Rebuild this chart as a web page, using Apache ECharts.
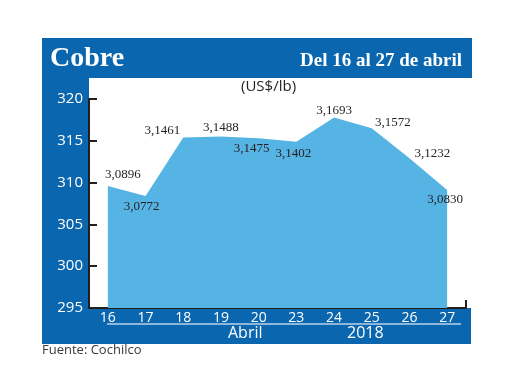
<!DOCTYPE html>
<html><head><meta charset="utf-8">
<script src="https://cdn.jsdelivr.net/npm/echarts@6/dist/echarts.min.js"></script>
<style>html,body{margin:0;padding:0;background:#fff}#c{width:520px;height:390px}</style>
</head><body><div id="c"></div>
<script>
// Data
var dias = ['16','17','18','19','20','23','24','25','26','27'];
var valores = [309.6, 308.4, 315.4, 315.5, 315.3, 314.9, 317.8, 316.5, 312.9, 309.1];
var etiquetas = ['3,0896','3,0772','3,1461','3,1488','3,1475','3,1402','3,1693','3,1572','3,1232','3,0830'];
var ticksY = [295, 300, 305, 310, 315, 320];

var offs = [[15,-11],[-4,11],[-21,-7],[0,-9],[-7,10],[-3,12],[0,-7],[21,-6],[23,-5],[-2,9]];
var azul = '#0a66ae';
var chart = echarts.init(document.getElementById('c'));
var serieData = valores.map(function (v, i) {
  return { value: v, label: { offset: offs[i], formatter: etiquetas[i] } };
});
chart.setOption({
  animation: false,
  backgroundColor: '#ffffff',
  graphic: [
    { type: 'rect', z: -10, shape: { x: 42, y: 38, width: 430, height: 40 }, style: { fill: azul } },
    { type: 'rect', z: -10, shape: { x: 42, y: 78, width: 47, height: 266 }, style: { fill: azul } },
    { type: 'rect', z: -10, shape: { x: 42, y: 308, width: 429, height: 36 }, style: { fill: azul } },
    { type: 'text', z: 5, left: 50, top: 45, style: { text: 'Cobre', fill: '#fff', font: 'bold 28px "Liberation Serif", serif' } },
    { type: 'text', z: 5, right: 58, top: 52, style: { text: 'Del 16 al 27 de abril', fill: '#fff', font: 'bold 19px "Liberation Serif", serif', textAlign: 'right' } },
    { type: 'text', z: 5, left: 241, top: 79, style: { text: '(US$/lb)', fill: '#231f20', font: '15px "Open Sans", sans-serif' } },
    { type: 'line', z: 5, shape: { x1: 107, y1: 324, x2: 461, y2: 324 }, style: { stroke: '#b9d3ec', lineWidth: 1.5 } },
    { type: 'text', z: 5, left: 228, top: 325, style: { text: 'Abril', fill: '#fff', font: '16px "Open Sans", sans-serif' } },
    { type: 'text', z: 5, left: 347, top: 325, style: { text: '2018', fill: '#fff', font: '16px "Open Sans", sans-serif' } },
    { type: 'text', z: 5, left: 42, top: 344, style: { text: 'Fuente: Cochilco', fill: '#3a3a3a', font: '13px "Open Sans", sans-serif' } }
  ],
  grid: { left: 89, right: 54, top: 99, bottom: 82 },
  xAxis: {
    type: 'category', data: dias, boundaryGap: true,
    axisLine: { lineStyle: { color: '#231f20', width: 2 } },
    axisTick: { show: true, inside: true, length: 8, lineStyle: { color: '#231f20', width: 2 },
      interval: function (i) { return i === dias.length - 1; } },
    axisLabel: { color: '#fff', fontSize: 14, fontFamily: 'Open Sans', margin: 3, interval: 0 }
  },
  yAxis: {
    type: 'value', min: ticksY[0], max: ticksY[ticksY.length - 1], interval: 5,
    splitLine: { show: false },
    axisLine: { show: true, lineStyle: { color: '#231f20', width: 2 } },
    axisTick: { show: true, inside: true, length: 8, lineStyle: { color: '#231f20', width: 2 } },
    axisLabel: { color: '#fff', fontSize: 15, fontFamily: 'Open Sans', margin: 6 }
  },
  series: [{
    type: 'line', data: serieData,
    symbol: 'circle', symbolSize: 0, showSymbol: true,
    lineStyle: { width: 0 },
    areaStyle: { color: '#56b4e4', opacity: 1, origin: 'start' },
    label: { show: true, position: 'inside', color: '#231f20', fontSize: 13, fontFamily: 'Liberation Serif' }
  }]
});
</script></body></html>
